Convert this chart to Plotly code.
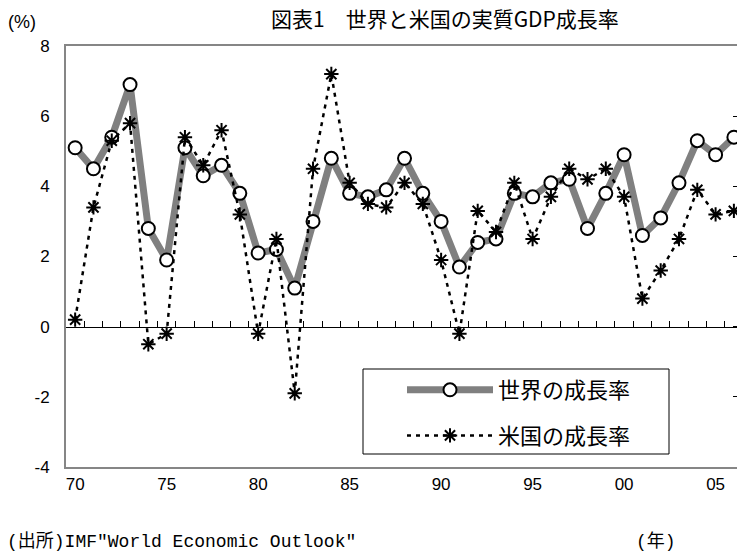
import plotly.graph_objects as go

# Real GDP growth rate (%), 1970-2006
years = list(range(1970, 2007))
world_growth = [5.1, 4.5, 5.4, 6.9, 2.8, 1.9, 5.1, 4.3, 4.6, 3.8,
                2.1, 2.2, 1.1, 3.0, 4.8, 3.8, 3.7, 3.9, 4.8, 3.8,
                3.0, 1.7, 2.4, 2.5, 3.8, 3.7, 4.1, 4.2, 2.8, 3.8,
                4.9, 2.6, 3.1, 4.1, 5.3, 4.9, 5.4]
us_growth = [0.2, 3.4, 5.3, 5.8, -0.5, -0.2, 5.4, 4.6, 5.6, 3.2,
             -0.2, 2.5, -1.9, 4.5, 7.2, 4.1, 3.5, 3.4, 4.1, 3.5,
             1.9, -0.2, 3.3, 2.7, 4.1, 2.5, 3.7, 4.5, 4.2, 4.5,
             3.7, 0.8, 1.6, 2.5, 3.9, 3.2, 3.3]

tick_years = [1970, 1975, 1980, 1985, 1990, 1995, 2000, 2005]
tick_text = ["70", "75", "80", "85", "90", "95", "00", "05"]
y_ticks = [-4, -2, 0, 2, 4, 6, 8]
y_tick_text = ["-4", "-2", "0", "2", "4", "6", "8"]
# category boundaries for the tick marks on the zero line
boundaries = [y + 0.5 for y in years[:-1]]

W, H = 737, 558
ML, MR, MT, MB = 66, 0, 46, 91
PW, PH = W - ML - MR, H - MT - MB
x_range = [1969.5, 2006.17]
y_range = [-4, 8]


def px_x(p):
    """Horizontal pixel -> paper fraction."""
    return (p - ML) / PW


def px_y(p):
    """Vertical pixel -> paper fraction."""
    return (H - MB - p) / PH


NUM_FONT = dict(family="Liberation Sans, Arial, sans-serif", size=17, color="black")
JP_FONT = "Noto Sans CJK JP, sans-serif"
FRAME = "#868686"

fig = go.Figure()

fig.add_trace(go.Scatter(
    x=years, y=world_growth, name="世界の成長率",
    mode="lines+markers", xaxis="x", yaxis="y",
    line=dict(color="#808080", width=7),
    marker=dict(symbol="circle", size=13, color="white",
                line=dict(color="black", width=2)),
    cliponaxis=False, legendgroup="w",
))

fig.add_trace(go.Scatter(
    x=years, y=us_growth, name="米国の成長率",
    mode="lines+markers", xaxis="x2", yaxis="y2",
    line=dict(color="black", width=2.5, dash="4px,5px"),
    marker=dict(symbol="asterisk-open", size=12, color="black",
                line=dict(color="black", width=2)),
    cliponaxis=False, legendgroup="u",
))

# legend frame
fig.add_shape(
    type="rect", xref="paper", yref="paper",
    x0=px_x(363), x1=px_x(669), y0=px_y(454), y1=px_y(369),
    line=dict(color="black", width=1), fillcolor="white", layer="below",
)

fig.update_layout(
    width=W, height=H,
    margin=dict(l=ML, r=MR, t=MT, b=MB, pad=0),
    paper_bgcolor="white", plot_bgcolor="white",
    showlegend=True,
    legend=dict(
        x=px_x(402), y=px_y(369),
        xanchor="left", yanchor="top",
        bgcolor="rgba(0,0,0,0)", borderwidth=0,
        font=dict(family=JP_FONT, size=22, color="black"),
        itemwidth=86, tracegroupgap=14, traceorder="grouped",
        itemsizing="trace",
    ),
    xaxis=dict(
        range=x_range, tickmode="array", tickvals=tick_years, ticktext=tick_text,
        ticks="outside", ticklen=1, tickcolor="rgba(0,0,0,0)",
        showgrid=False, zeroline=False,
        showline=True, linecolor=FRAME, linewidth=2, mirror=True,
        tickfont=NUM_FONT,
    ),
    xaxis2=dict(
        range=x_range, matches="x", overlaying="x",
        anchor="free", position=(0 - y_range[0]) / (y_range[1] - y_range[0]),
        side="top", tickmode="array", tickvals=boundaries,
        ticks="outside", ticklen=6, tickwidth=1, tickcolor="black",
        showticklabels=False, showgrid=False, zeroline=False,
        showline=True, linecolor="black", linewidth=1,
    ),
    yaxis=dict(
        range=y_range, tickmode="array", tickvals=y_ticks, ticktext=y_tick_text,
        showgrid=False, zeroline=False,
        ticks="outside", ticklen=11, tickcolor="rgba(0,0,0,0)",
        showline=True, linecolor=FRAME, linewidth=2,
        tickfont=NUM_FONT,
    ),
    yaxis2=dict(
        range=y_range, matches="y", overlaying="y", side="right", anchor="x",
        tickmode="array", tickvals=y_ticks,
        ticks="inside", ticklen=4, tickwidth=1, tickcolor="black",
        showticklabels=False, showgrid=False, zeroline=False, showline=False,
    ),
)

fig.add_annotation(
    text="図表1　世界と米国の実質GDP成長率",
    xref="paper", yref="paper", x=px_x(445), y=1, xanchor="center", yanchor="middle",
    yshift=MT - 18, showarrow=False,
    font=dict(family=JP_FONT, size=21, color="black"),
)
fig.add_annotation(
    text="(%)", xref="paper", yref="paper", x=0, y=1,
    xanchor="left", yanchor="middle", xshift=-ML + 6, yshift=MT - 22,
    showarrow=False, font=dict(NUM_FONT, size=18),
)
fig.add_annotation(
    text='(出所)IMF"World Economic Outlook"', xref="paper", yref="paper",
    x=0, y=0, xanchor="left", yanchor="middle", xshift=-ML + 5, yshift=-(541 - (H - MB)),
    showarrow=False,
    font=dict(family="Liberation Mono, " + JP_FONT, size=18, color="black"),
)
fig.add_annotation(
    text="(年)", xref="paper", yref="paper",
    x=0, y=0, xanchor="left", yanchor="middle", xshift=634 - ML, yshift=-(541 - (H - MB)),
    showarrow=False,
    font=dict(family="Liberation Mono, " + JP_FONT, size=18, color="black"),
)

fig.write_html("out.html")
